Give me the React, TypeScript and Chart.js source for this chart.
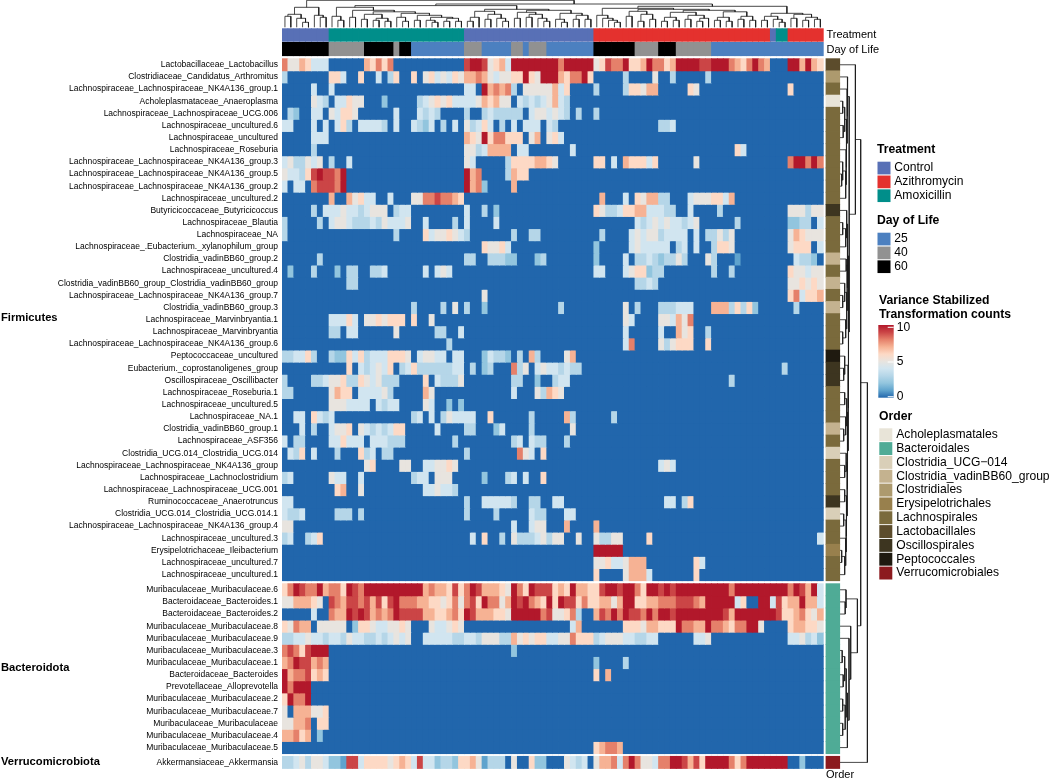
import React, { useEffect, useRef } from "react";
import { Chart, registerables } from "chart.js";

Chart.register(...registerables);

const FONT = "'Liberation Sans', Arial, sans-serif";

const firmicutesRows = [
  "Lactobacillaceae_Lactobacillus", "Clostridiaceae_Candidatus_Arthromitus", "Lachnospiraceae_Lachnospiraceae_NK4A136_group.1",
  "Acholeplasmataceae_Anaeroplasma", "Lachnospiraceae_Lachnospiraceae_UCG.006", "Lachnospiraceae_uncultured.6",
  "Lachnospiraceae_uncultured", "Lachnospiraceae_Roseburia", "Lachnospiraceae_Lachnospiraceae_NK4A136_group.3",
  "Lachnospiraceae_Lachnospiraceae_NK4A136_group.5", "Lachnospiraceae_Lachnospiraceae_NK4A136_group.2", "Lachnospiraceae_uncultured.2",
  "Butyricicoccaceae_Butyricicoccus", "Lachnospiraceae_Blautia", "Lachnospiraceae_NA",
  "Lachnospiraceae_.Eubacterium._xylanophilum_group", "Clostridia_vadinBB60_group.2", "Lachnospiraceae_uncultured.4",
  "Clostridia_vadinBB60_group_Clostridia_vadinBB60_group", "Lachnospiraceae_Lachnospiraceae_NK4A136_group.7", "Clostridia_vadinBB60_group.3",
  "Lachnospiraceae_Marvinbryantia.1", "Lachnospiraceae_Marvinbryantia", "Lachnospiraceae_Lachnospiraceae_NK4A136_group.6",
  "Peptococcaceae_uncultured", "Eubacterium._coprostanoligenes_group", "Oscillospiraceae_Oscillibacter",
  "Lachnospiraceae_Roseburia.1", "Lachnospiraceae_uncultured.5", "Lachnospiraceae_NA.1",
  "Clostridia_vadinBB60_group.1", "Lachnospiraceae_ASF356", "Clostridia_UCG.014_Clostridia_UCG.014",
  "Lachnospiraceae_Lachnospiraceae_NK4A136_group", "Lachnospiraceae_Lachnoclostridium", "Lachnospiraceae_Lachnospiraceae_UCG.001",
  "Ruminococcaceae_Anaerotruncus", "Clostridia_UCG.014_Clostridia_UCG.014.1", "Lachnospiraceae_Lachnospiraceae_NK4A136_group.4",
  "Lachnospiraceae_uncultured.3", "Erysipelotrichaceae_Ileibacterium", "Lachnospiraceae_uncultured.7", "Lachnospiraceae_uncultured.1",
];
const bacteroidotaRows = [
  "Muribaculaceae_Muribaculaceae.6", "Bacteroidaceae_Bacteroides.1", "Bacteroidaceae_Bacteroides.2", "Muribaculaceae_Muribaculaceae.8",
  "Muribaculaceae_Muribaculaceae.9", "Muribaculaceae_Muribaculaceae.3", "Muribaculaceae_Muribaculaceae.1", "Bacteroidaceae_Bacteroides",
  "Prevotellaceae_Alloprevotella", "Muribaculaceae_Muribaculaceae.2", "Muribaculaceae_Muribaculaceae.7", "Muribaculaceae_Muribaculaceae",
  "Muribaculaceae_Muribaculaceae.4", "Muribaculaceae_Muribaculaceae.5",
];
const verrucomicrobiotaRows = ["Akkermansiaceae_Akkermansia"];

// One character per sample: 0..9 and a = 10 (variance stabilized counts, rounded).
const firmicutesCells = [
  "8557644400 0000768680 0000000000 09aa95674a aaaaaa a8aaaaa569 88a667a886 7aaaa99aaa 8768a87000 aa7a76",
  "3000000066 4006004036 0060564546 5778754556 6a65aa a7688a6000 0030000500 3000003000 0000000000 000000",
  "0000040040 0000000000 0000000000 0440a78783 055555 7460000300 0036657700 0006500000 0000000000 600000",
  "0000054304 4655000200 0003456564 4445767550 434345 7430000000 0000000000 0000000000 0000000000 000000",
  "0320044054 6650000004 0004343000 0300343333 304554 5430300300 0000000000 0000000000 0000000000 000000",
  "4400040404 6304444304 0043240304 0534640304 044404 3000000000 0000000033 4000000000 0000000000 000000",
  "0000044400 0000000000 0000000000 0765a68866 605705 6400000000 0000000000 0000000000 0000000000 000000",
  "0000030000 0000000000 0000000000 0553477770 440000 0004000000 0000000000 0000000000 0640000000 000000",
  "4533545030 0400000000 0000000000 0540000036 666776 5000000660 4076664600 0000500000 0000000000 8aa8a8",
  "544369a998 a000000000 0000000000 0a78000037 660000 0000000000 0000000000 0000000000 0000000000 000000",
  "4044089998 a000000000 0000000000 0a78200007 000000 0000000000 0000000000 0000000000 0000000000 000000",
  "0000000070 0756440040 0055889887 6000000000 000000 0000000070 0040657733 0004555664 7000000000 000000",
  "0000030444 5443455503 4400000000 0400302000 000000 0000000653 3466774443 3004000030 0000000000 555355",
  "3000003045 5433343544 4500400003 0400004000 000000 0000000000 0000434545 4434500000 0300000000 223304",
  "3000000000 0000000003 0000645565 4300000003 003300 0000000030 0004545534 4440403353 5000000000 576555",
  "0000000000 0000000000 0000000000 0000655640 000000 0000000200 0004544444 0340400366 5000000000 566604",
  "0000003000 0000000000 0000000000 0330033322 000230 0000000200 0040334323 3530005300 0100000000 043320",
  "0200030002 0330033400 0000404540 0000000000 000000 0000000440 0045662330 0000000300 3000000000 655455",
  "0000000000 0330000000 0000000000 0000000000 000000 0000000000 0000334300 0000000000 0000000000 556565",
  "0000000000 0000000000 0000000000 0000500000 000000 0000000000 0000000000 0000000000 0000000000 684667",
  "0000000000 0000000000 0030000305 0300200000 000000 0300000000 0050300033 3444000777 3636200000 030000",
  "0000000044 4640556566 6060050000 0000000000 000000 0000000000 0054000055 4758000000 0000000000 000000",
  "0000000033 0440000005 0000003300 4000000000 000000 0000000000 0040000040 0756003000 0000000000 000000",
  "0000000000 0000000000 0000000030 0000000000 000000 0000000000 0048000053 5666006000 0000000000 000000",
  "3344630032 2646344466 6504554404 4000243320 307300 0057000000 0000000000 0000000000 0000000000 000000",
  "0000000000 0604345460 3463333334 4030230008 350454 4343300000 0000000000 0000000000 0000000003 000000",
  "3000033455 6336545333 0000604333 5000000003 300200 3440000000 0000000000 0000000000 3000000000 000000",
  "3300000057 6604444530 0000750000 0000000004 000537 6500000000 0000000000 0000000000 0000000000 000000",
  "0000000055 5444404344 0000540020 2000000000 000000 0000000000 0000000000 0000000000 0000000000 000000",
  "0044064340 0000000000 0034040354 4440060000 003000 0073000000 3000000000 0000000000 0000000000 000000",
  "0004030045 5605434346 6000004000 0330002400 003000 0005000000 0000000000 0000000000 0000000000 000000",
  "4033000044 6444044433 3000000003 0000000003 404330 0030000000 0000000000 0000000000 0000000000 000000",
  "0436040003 0006340330 0000000000 0300000000 854060 0000000000 0000000000 0000000000 0000000000 000000",
  "0000000000 0000560000 5500445565 0000000000 000000 0000000000 0000000045 4000000000 0000000000 000000",
  "3400000054 4004000000 0034405550 0000200034 040060 0000000000 0000000000 0000000000 0000000000 000000",
  "0000000006 7005000000 0000445443 0000000000 000000 0000000000 0000000000 0000000000 0000000000 000000",
  "4400000000 0000000000 0000000000 0300444443 003300 4400000000 0000000004 4036000000 0000000000 000000",
  "4334000003 3303000000 0000000000 0300003000 004330 0044000000 0000000000 0000000000 0000000000 000000",
  "5500000000 0000000000 0000000000 0000000004 004550 0070000700 0000000000 0000000000 0000000000 000000",
  "3400346000 0000000000 0000000000 0040600305 333453 5500500533 5500006000 0000000000 0000000000 000004",
  "0000000000 0000000000 0000000000 0000000000 000000 0000000aaa aa00000000 0000000000 0000000000 000000",
  "0000000000 0000000000 0000000000 0000000000 000000 0000000556 4457770000 0000640000 0000000000 000000",
  "0000000000 0000000000 0000000000 0000000000 000000 0000000600 0057774000 0000600000 0000000000 000000",
];
const bacteroidotaCells = [
  "68a988a788 6a98aaaaaa aaaa787769 68a977765a 86a999 676a77669a a9aa86aa9a 9aaaaaaaaa 8aaaaaaaaa 8a97a4",
  "5577765098 799897969a 8887766568 5896a8857a 9a876a 6a99686677 57aa667788 899987aaaa a4600aa496 77a774",
  "0000040087 7a9a97878a 9999776678 6a9777665a aaaa89 5568300798 a8a998a8aa 9aaaaaaaa9 7aaaaaaa96 678657",
  "6587705555 5026654455 6500054456 5000000000 000000 0004700000 0066657766 6a8877a887 688aa50000 677665",
  "3344544344 3544334345 4500444443 3443555337 565664 4558666345 5544334400 0000445000 0000000000 445342",
  "89869aaa00 0000000000 0000000000 0000000002 000000 0000000000 0000000000 0000000000 0000000000 000000",
  "78a9978700 0000000000 0000000000 0000000000 000000 0000000200 0030000000 0000000000 0000000000 000000",
  "a788967600 0000000000 0000000000 0000000000 000000 0000000607 0000000000 0000000000 0000000000 000000",
  "a8aaa00000 0000000000 0000000000 0000000000 000000 0000000000 0000000000 0000000000 0000000000 000000",
  "6a88a00000 0000000000 0000000000 0000000000 000000 0000000000 0000000000 0000000000 0000000000 000000",
  "5077755600 0000000000 0000000000 0000000000 000000 0000000000 0000000000 0000000000 0000000000 000000",
  "5577806600 0000000000 0000000000 0000000000 000000 0000000000 0000000000 0000000000 0000000000 000000",
  "7786702000 0000000000 0000000000 0000000000 000000 0000000000 0000000000 0000000000 0000000000 000000",
  "0000000000 0000000000 0000000000 0000000000 000000 0000000678 8700000000 0000000000 0000000000 000000",
];
const verrucomicrobiotaCells = [
  "3345355422 1994666656 7649442332 6675133305 006220 0054340577 848a855488 aa9796aaaa 868aaaaaaa 002000",
];

const treatmentSamples = "CCCCCCCCMM MMMMMMMMMM MMMMMMMMMM MCCCCCCCCC CCCCCCCCCC CCCZZZZZZZ ZZZZZZZZZZ ZZZZZZZZZZ ZZZCMMZZZZ ZZ";
const dayOfLifeSamples = "BBBBBBBBGG GGGGBBBBBG BBLLLLLLLL LGGGLLLLLG GLGGGLLLLL LLLBBBBBBB GGGGBBBGGG GGGLLLLLLL LLLLLLLLLL LL";

const firmicutesOrders = [
  "Lactobacillales", "Clostridiales", "Lachnospirales", "Acholeplasmatales", "Lachnospirales", "Lachnospirales", "Lachnospirales", "Lachnospirales",
  "Lachnospirales", "Lachnospirales", "Lachnospirales", "Lachnospirales", "Oscillospirales", "Lachnospirales", "Lachnospirales", "Lachnospirales",
  "Clostridia_vadinBB60_group", "Lachnospirales", "Clostridia_vadinBB60_group", "Lachnospirales", "Clostridia_vadinBB60_group", "Lachnospirales",
  "Lachnospirales", "Lachnospirales", "Peptococcales", "Oscillospirales", "Oscillospirales", "Lachnospirales", "Lachnospirales", "Lachnospirales",
  "Clostridia_vadinBB60_group", "Lachnospirales", "Clostridia_UCG-014", "Lachnospirales", "Lachnospirales", "Lachnospirales", "Oscillospirales",
  "Clostridia_UCG-014", "Lachnospirales", "Lachnospirales", "Erysipelotrichales", "Lachnospirales", "Lachnospirales",
];

const levelColors = ["#2166ac", "#5fa3cd", "#92c5de", "#b5d6e8", "#d1e5f0", "#e8e4df", "#fdd9c5", "#f6b294", "#e5806a", "#cb4546", "#b2182b"];
const treatmentLegend = [["Control", "#5870b6"], ["Azithromycin", "#e4312e"], ["Amoxicillin", "#008e8a"]];
const dayLegend = [["25", "#4c80c0"], ["40", "#919191"], ["60", "#000000"]];
const orderLegend: [string, string][] = [
  ["Acholeplasmatales", "#e8e4d8"], ["Bacteroidales", "#4fab96"], ["Clostridia_UCG\u2212014", "#d9cfb8"], ["Clostridia_vadinBB60_group", "#c4b28f"],
  ["Clostridiales", "#ad9a6e"], ["Erysipelotrichales", "#98804d"], ["Lachnospirales", "#7a6a3c"], ["Lactobacillales", "#5c4c2c"],
  ["Oscillospirales", "#3d3520"], ["Peptococcales", "#1f1a10"], ["Verrucomicrobiales", "#8c1a1e"],
];
const colorbarTicks = [10, 5, 0];

// Dendrograms: node = [height, left, right]; 0 = a leaf. Leaves are in display order.
type Node = 0 | [number, Node, Node];
const clusterA: Node = [20, [13, [11, 0, 0], [9, 0, [5, 0, 0]]], [12, 0, [10, 0, 0]]];
const clusterAmox: Node = [20, [11, 0, [7, 0, 0]], [17, [10, 0, 0], [15.5, [13, [8, 0, 0], [9, [7, 0, 0], [6, 0, 0]]], [14, [10, 0, [6, 0, 0]], [12, [7, 0, 0], [10, [7, 0, [5, 0, 0]], [9, [6, 0, 0], [6, 0, 0]]]]]]]];
const clusterCtrl: Node = [18, [16, [10, [6, 0, 0], 0], [13, [8, 0, 0], [9, 0, [6, 0, 0]]]], [17, [15, [9, 0, 0], [13, [10, 0, 0], [9, 0, [6, 0, 0]]]], [14, [8, 0, [5, 0, 0]], [12, [8, 0, 0], [8, 0, 0]]]]];
const clusterAzi: Node = [21,
  [19, [12, 0, [9, 0, [7, 0, [5, 0, 0]]]],
    [18, [16, [11, 0, 0], [13, [6, 0, 0], [8, 0, 0]]],
      [17, [15, [10, [6, 0, 0], [7, 0, 0]], [12, [8, 0, 0], [9, [6, 0, 0], 0]]], [15.5, [10, [7, 0, 0], [6, 0, 0]], [11, [8, 0, 0], [7, 0, 0]]]]]],
  [14, [11, [7, 0, 0], [8, 0, [5, 0, 0]]], [13, [9, 0, 0], [10, [7, 0, 0], [8, 0, 0]]]]];
const columnTree: Node = [27, clusterA, [23.3, [21.7, clusterAmox, clusterCtrl], clusterAzi]];

const rowsC1: Node = [8, 0, [7.5, 0, [7, [5, [3, 0, 0], [3.5, 0, 0]], [6.5, 0, [6, [3, 0, [2, 0, 0]], 0]]]]];
const rowsC2: Node = [8, [7, 0, [6, [3, 0, 0], 0]], [7.5, [6.5, 0, 0], [7, [5, 0, [3, 0, 0]], [6, 0, [3, 0, 0]]]]];
const rowsC3: Node = [8.5, [5, 0, [4, 0, 0]], [8, [7, [5, 0, 0], [6, 0, [4, 0, 0]]], [7.5, [6.5, 0, [5, 0, 0]], [7, [5, 0, 0], [6.5, [4, 0, 0], [6, 0, [5, [2, 0, 0], 0]]]]]]];
const rowsBact: Node = [17.7, [6.3, 0, [5.5, 0, 0]], [11, 0, [9.3, 0, [7.7, [6.5, [5, [2.5, 0, 0], [3.5, 0, 0]], [5.5, [3, 0, 0], [3, 0, 0]]], 0]]]];
const rowTree: Node = [27.7, [21, [15.7, 0, [9.5, rowsC1, [9, rowsC2, rowsC3]]], rowsBact], 0];

// Layout of the plot, in pixels.
const PLOT_LEFT = 282;
const PLOT_RIGHT = 870;
const COL_W = 541.3 / 92;
const ROW_H = 12.14;
const ROW_TOP = 58.7;
const xOf = (px: number) => (px - PLOT_LEFT) / COL_W;
const yOf = (px: number) => (px - ROW_TOP) / ROW_H;

const allRows = [...firmicutesRows, ...bacteroidotaRows, ...verrucomicrobiotaRows];
const allCells = [...firmicutesCells, ...bacteroidotaCells, ...verrucomicrobiotaCells];
const allOrders = [...firmicutesOrders, ...bacteroidotaRows.map(() => "Bacteroidales"), ...verrucomicrobiotaRows.map(() => "Verrucomicrobiales")];
const rowCenters = allRows.map((_, i) => (i < 43 ? i + 0.5 : i < 57 ? yOf(583.7) + (i - 43) + 0.5 : yOf(762.4)));
const labelAt = new Map(rowCenters.map((c, i) => [c, allRows[i]]));
const orderColor = new Map(orderLegend.map(([n, c]) => [n.replace("\u2212", "-"), c]));

const expand = (s: string) => s.replace(/ /g, "").padEnd(92, "0").slice(0, 92).split("");
const levelOf = (ch: string) => (ch === "a" ? 10 : Number(ch));

function treeSegments(tree: Node, leaf: (i: number) => number, toPoint: (pos: number, h: number) => { x: number; y: number }) {
  const pts: { x: number; y: number }[] = [];
  let n = 0;
  const walk = (node: Node): [number, number] => {
    if (node === 0) return [leaf(n++), 0];
    const [h, a, b] = node;
    const [pa, ha] = walk(a);
    const [pb, hb] = walk(b);
    pts.push(toPoint(pa, ha), toPoint(pa, h), toPoint(pb, h), toPoint(pb, hb), { x: NaN, y: NaN });
    return [(pa + pb) / 2, h];
  };
  walk(tree);
  return pts;
}

function buildDatasets() {
  const base = { type: "bar" as const, indexAxis: "y" as const, grouped: false, borderWidth: 0, borderSkipped: false, inflateAmount: 0.4 };
  const tColors: Record<string, string> = { C: treatmentLegend[0][1], Z: treatmentLegend[1][1], M: treatmentLegend[2][1] };
  const dColors: Record<string, string> = { L: dayLegend[0][1], G: dayLegend[1][1], B: dayLegend[2][1] };
  const annotation = (label: string, samples: string, colors: Record<string, string>, top: number, bottom: number) => {
    const cells = samples.replace(/ /g, "").split("");
    return {
      ...base, label,
      barThickness: bottom - top,
      data: cells.map((_, c) => ({ x: [c, c + 1], y: yOf((top + bottom) / 2) })),
      backgroundColor: cells.map((ch) => colors[ch]),
    };
  };
  const heat = allRows.map((name, r) => {
    const cells = expand(allCells[r]);
    return {
      ...base, label: name,
      barThickness: ROW_H,
      data: cells.map((_, c) => ({ x: [c, c + 1], y: rowCenters[r] })),
      backgroundColor: cells.map((ch) => levelColors[levelOf(ch)]),
    };
  });
  const order = {
    ...base, label: "Order",
    barThickness: ROW_H,
    data: allRows.map((_, r) => ({ x: [xOf(826), xOf(839.7)], y: rowCenters[r] })),
    backgroundColor: allOrders.map((o) => orderColor.get(o)),
  };
  const line = { type: "line" as const, borderColor: "#1a1a1a", borderWidth: 0.8, pointRadius: 0, fill: false, tension: 0, spanGaps: false };
  const colDendro = {
    ...line, label: "Sample dendrogram",
    data: treeSegments(columnTree, (i) => i + 0.5, (pos, h) => ({ x: pos, y: yOf(27.3 - h) })),
  };
  const rowDendro = {
    ...line, label: "Taxon dendrogram",
    data: treeSegments(rowTree, (i) => rowCenters[i], (pos, h) => ({ x: xOf(839.7 + h), y: pos })),
  };
  return [
    annotation("Treatment", treatmentSamples, tColors, 28.7, 41.3),
    annotation("Day of Life", dayOfLifeSamples, dColors, 42.3, 55.7),
    ...heat, order, colDendro, rowDendro,
  ];
}

const textPlugin = {
  id: "heatmapText",
  afterDraw(chart: Chart) {
    const ctx = chart.ctx;
    ctx.save();
    ctx.textBaseline = "middle";
    ctx.textAlign = "left";
    ctx.fillStyle = "#000";
    const text = (s: string, x: number, y: number, font: string) => {
      ctx.font = `${font} ${FONT}`;
      ctx.fillText(s, x, y);
    };
    text("Firmicutes", 1, 318, "bold 11.2px");
    text("Bacteroidota", 1, 668, "bold 11.2px");
    text("Verrucomicrobiota", 1, 762, "bold 11.2px");
    text("Treatment", 826.5, 35.3, "11px");
    text("Day of Life", 826.5, 49.5, "11px");
    text("Order", 826, 774.5, "11px");

    const swatches = (items: string[][] | [string, string][], x: number, y: number, w: number, h: number, tx: number) => {
      items.forEach(([name, color], i) => {
        const top = y + i * 13.83;
        ctx.fillStyle = color;
        ctx.fillRect(x, top, w, h);
        ctx.fillStyle = "#000";
        text(name, tx, top + h / 2, "12.1px");
      });
    };
    text("Treatment", 877, 150, "bold 12.2px");
    swatches(treatmentLegend, 877.5, 161.7, 13, 12.7, 894.3);
    text("Day of Life", 877, 221, "bold 12.2px");
    swatches(dayLegend, 877.5, 232.7, 13, 12.7, 894.3);
    text("Variance Stabilized", 879, 300.7, "bold 12.2px");
    text("Transformation counts", 879, 314.3, "bold 12.2px");
    const barTop = 325, barBottom = 397.7;
    const grad = ctx.createLinearGradient(0, barBottom, 0, barTop);
    levelColors.forEach((c, i) => grad.addColorStop(i / 10, c));
    ctx.fillStyle = grad;
    ctx.fillRect(878.3, barTop, 15.4, barBottom - barTop);
    colorbarTicks.forEach((v) => {
      const y = 396.7 - (v / 10) * (396.7 - 327.3);
      ctx.fillStyle = "#fff";
      ctx.fillRect(887.7, y - 0.5, 6, 1);
      ctx.fillStyle = "#000";
      text(String(v), 896.7, y, "12.1px");
    });
    text("Order", 879, 416.7, "bold 12.2px");
    swatches(orderLegend, 879.3, 428.3, 13, 12.9, 896.3);
    ctx.restore();
  },
};

export default function App() {
  const ref = useRef<HTMLCanvasElement | null>(null);
  useEffect(() => {
    if (!ref.current) return;
    const chart = new Chart(ref.current, {
      type: "bar",
      data: { datasets: buildDatasets() as any },
      options: {
        animation: false,
        responsive: false,
        devicePixelRatio: 1,
        layout: { autoPadding: false, padding: { left: 0, top: 0, bottom: 0, right: 1050 - PLOT_RIGHT } },
        plugins: { legend: { display: false }, tooltip: { enabled: false } },
        events: [],
        scales: {
          x: { type: "linear", offset: false, min: 0, max: xOf(PLOT_RIGHT), display: false, grid: { display: false } },
          y: {
            type: "linear", offset: false, reverse: true, min: yOf(0), max: yOf(779),
            grid: { display: false, drawTicks: false }, border: { display: false },
            afterBuildTicks: (axis: any) => { axis.ticks = rowCenters.map((value) => ({ value })); },
            afterFit: (axis: any) => { axis.width = PLOT_LEFT; axis.paddingTop = 0; axis.paddingBottom = 0; },
            ticks: {
              autoSkip: false, minRotation: 0, maxRotation: 0, padding: 4, color: "#000",
              font: { family: FONT, size: 8.5 },
              callback: (v: any) => labelAt.get(v) ?? "",
            },
          },
        },
      },
      plugins: [textPlugin],
    } as any);
    return () => chart.destroy();
  }, []);
  return (
    <canvas ref={ref} width={1050} height={779} style={{ position: "absolute", left: 0, top: 0, display: "block" }} />
  );
}
